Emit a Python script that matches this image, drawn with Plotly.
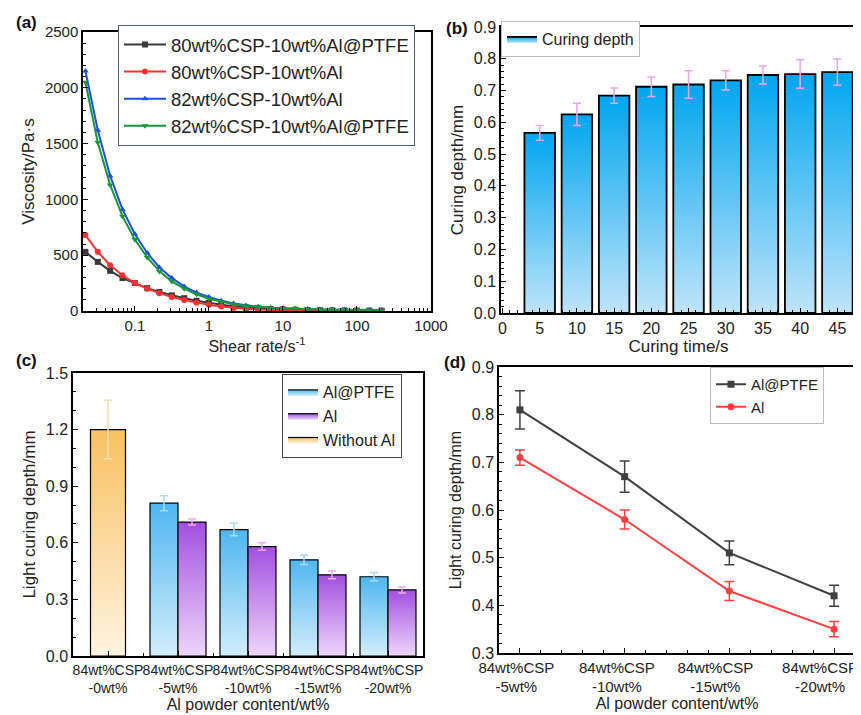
"""Four-panel figure: viscosity, curing depth vs time, light curing depth vs Al content."""

import plotly.graph_objects as go

# (a) viscosity vs shear rate
shear_rate = [0.0215, 0.0316, 0.0464, 0.0681, 0.1, 0.147, 0.215, 0.316, 0.464, 0.681,
              1.0, 1.47, 2.15, 3.16, 4.64, 6.81, 10, 14.7, 21.5, 31.6, 46.4, 68.1, 100, 147, 215]
visc_80_ptfe = [530, 440, 360, 295, 250, 205, 170, 140, 115, 92, 72, 55, 42, 32, 24, 18, 14, 11,
                9, 7, 6, 5, 4, 4, 3]
visc_80_al = [680, 530, 410, 320, 250, 200, 160, 125, 98, 75, 55, 40, 28, 20, 14, 10, 8, 6,
              5, 4, 3, 3, 2, 2, 2]
visc_82_al = [2150, 1620, 1210, 910, 690, 520, 390, 295, 220, 165, 125, 92, 68, 50, 38, 30, 24,
              20, 17, 14, 12, 11, 10, 9, 8]
visc_82_ptfe = [2050, 1510, 1130, 850, 640, 480, 355, 265, 200, 150, 110, 82, 60, 45, 35, 28,
                22, 18, 15, 13, 11, 10, 9, 8, 7]

# (b) curing depth vs curing time
cure_time = [5, 10, 15, 20, 25, 30, 35, 40, 45]
cure_depth = [0.567, 0.625, 0.684, 0.712, 0.719, 0.732, 0.749, 0.752, 0.758]
cure_err = [0.023, 0.035, 0.024, 0.031, 0.043, 0.030, 0.028, 0.045, 0.041]

# (c) / (d) light curing depth vs Al content
groups_c = ["84wt%CSP<br>-0wt%", "84wt%CSP<br>-5wt%", "84wt%CSP<br>-10wt%",
            "84wt%CSP<br>-15wt%", "84wt%CSP<br>-20wt%"]
NB = "\u00a0"
# (d) labels sit a little off their ticks in the original
groups_d = [NB * 5 + "84wt%CSP<br>" + NB * 5 + "-5wt%",
            NB * 3 + "84wt%CSP<br>" + NB * 3 + "-10wt%",
            "84wt%CSP<br>-15wt%", "84wt%CSP<br>-20wt%"]
without_al = 1.2
without_al_err = 0.155
al_ptfe = [0.81, 0.67, 0.51, 0.42]
al_ptfe_err = [0.04, 0.033, 0.025, 0.022]
al_only = [0.71, 0.58, 0.43, 0.35]
al_only_err = [0.016, 0.02, 0.02, 0.016]

FONT = "Arial, Liberation Sans, sans-serif"

fig = go.Figure()

# ---- (a)
series_a = [
    ("80wt%CSP-10wt%Al@PTFE", visc_80_ptfe, "#3a3a3a", "square"),
    ("80wt%CSP-10wt%Al", visc_80_al, "#ff3030", "circle"),
    ("82wt%CSP-10wt%Al", visc_82_al, "#1f4fe0", "triangle-up"),
    ("82wt%CSP-10wt%Al@PTFE", visc_82_ptfe, "#16983a", "triangle-down"),
]
for name, vals, color, sym in series_a:
    fig.add_trace(go.Scatter(
        x=shear_rate, y=vals, name=name, mode="lines+markers",
        line=dict(color=color, width=2), marker=dict(symbol=sym, size=6, color=color),
        xaxis="x", yaxis="y", legend="legend"))


def grad_bar(x, h, w, light, dark, xa, ya, name, show, legend, lw=1.5):
    # bar drawn as filled polygon so it can carry a vertical gradient
    fig.add_trace(go.Scatter(
        x=[x - w / 2, x - w / 2, x + w / 2, x + w / 2, x - w / 2],
        y=[0, h, h, 0, 0], mode="lines", fill="toself",
        fillgradient=dict(type="vertical", colorscale=[[0, light], [1, dark]]),
        line=dict(color="black", width=lw), name=name, showlegend=show,
        legendgroup=name, xaxis=xa, yaxis=ya, legend=legend, hoverinfo="skip"))


# ---- (b)
for i, (t, d) in enumerate(zip(cure_time, cure_depth)):
    grad_bar(t, d, 4.1, "#bfe4fa", "#00a6ef", "x2", "y2", "Curing depth", i == 0, "legend2", 1.8)
fig.add_trace(go.Scatter(
    x=cure_time, y=cure_depth, mode="markers", marker=dict(opacity=0),
    error_y=dict(array=cure_err, color="#e8a6e8", thickness=1.5, width=4),
    showlegend=False, xaxis="x2", yaxis="y2"))

# ---- (c)
grad_bar(0, without_al, 0.5, "#fff3df", "#f8c060", "x3", "y3", "Without Al", False, "legend3", 1.2)
for i in range(len(al_ptfe)):
    grad_bar(i + 1 - 0.2, al_ptfe[i], 0.4, "#d3eefc", "#4fb6f0", "x3", "y3", "Al@PTFE",
             i == 0, "legend3", 1.2)
    grad_bar(i + 1 + 0.2, al_only[i], 0.4, "#efd6fa", "#a24fe0", "x3", "y3", "Al",
             i == 0, "legend3", 1.2)
# legend entry for Without Al placed last
fig.add_trace(go.Scatter(
    x=[0, 0], y=[0, 0], mode="lines", fill="toself",
    fillgradient=dict(type="vertical", colorscale=[[0, "#fff3df"], [1, "#f8c060"]]),
    line=dict(color="black", width=1.2), name="Without Al", legendgroup="Without Al",
    xaxis="x3", yaxis="y3", legend="legend3", hoverinfo="skip"))
fig.add_trace(go.Scatter(
    x=[0], y=[without_al], mode="markers", marker=dict(opacity=0),
    error_y=dict(array=[without_al_err], color="#f6e0b0", thickness=1.5, width=4),
    showlegend=False, xaxis="x3", yaxis="y3"))
fig.add_trace(go.Scatter(
    x=[i + 1 - 0.2 for i in range(len(al_ptfe))], y=al_ptfe, mode="markers",
    marker=dict(opacity=0),
    error_y=dict(array=al_ptfe_err, color="#a8dcf6", thickness=1.5, width=4),
    showlegend=False, xaxis="x3", yaxis="y3"))
fig.add_trace(go.Scatter(
    x=[i + 1 + 0.2 for i in range(len(al_only))], y=al_only, mode="markers",
    marker=dict(opacity=0),
    error_y=dict(array=al_only_err, color="#f0a8f0", thickness=1.5, width=4),
    showlegend=False, xaxis="x3", yaxis="y3"))

# ---- (d)
fig.add_trace(go.Scatter(
    x=list(range(len(groups_d))), y=al_ptfe, name="Al@PTFE", mode="lines+markers",
    line=dict(color="#404040", width=2), marker=dict(symbol="square", size=7, color="#404040"),
    error_y=dict(array=al_ptfe_err, color="#404040", thickness=1.5, width=5),
    xaxis="x4", yaxis="y4", legend="legend4"))
fig.add_trace(go.Scatter(
    x=list(range(len(groups_d))), y=al_only, name="Al", mode="lines+markers",
    line=dict(color="#ff4040", width=2), marker=dict(symbol="circle", size=7, color="#ff4040"),
    error_y=dict(array=al_only_err, color="#ff4040", thickness=1.5, width=5),
    xaxis="x4", yaxis="y4", legend="legend4"))


def ax(size=15, **kw):
    base = dict(showline=True, linecolor="black", linewidth=1.5, mirror=True,
                ticks="inside", ticklen=5, tickwidth=1.2, tickcolor="black",
                showgrid=False, zeroline=False, automargin=False, tickangle=0,
                tickfont=dict(family=FONT, size=size, color="#222"),
                minor=dict(ticks="inside", ticklen=3, tickcolor="black", showgrid=False))
    base.update(kw)
    return base


W, H = 861, 715


def xd(a, b):
    return [a / W, b / W]


def yd(top, bottom):
    return [1 - bottom / H, 1 - top / H]


fig.update_layout(
    width=W, height=H, margin=dict(l=0, r=0, t=0, b=0),
    paper_bgcolor="white", plot_bgcolor="white",
    font=dict(family=FONT, color="#222"),
    xaxis=ax(15, domain=xd(75, 423), type="log", range=[-1.7, 3],
             tickvals=[0.1, 1, 10, 100, 1000], ticktext=["0.1", "1", "10", "100", "1000"],
             minor=dict(ticks="inside", ticklen=3, tickcolor="black", dtick="D1",
                        showgrid=False),
             title=dict(text="Shear rate/s<sup>-1</sup>", font=dict(size=16), standoff=8),
             anchor="y"),
    yaxis=ax(15, domain=yd(24, 303), range=[0, 2500], dtick=500,
             title=dict(text="Viscosity/Pa·s", font=dict(size=17), standoff=6), anchor="x"),
    xaxis2=ax(16, domain=xd(493, 848), range=[-0.2, 47.5], dtick=5,
              title=dict(text="Curing time/s", font=dict(size=17), standoff=4), anchor="y2"),
    yaxis2=ax(16, domain=yd(19, 305), range=[0, 0.9], dtick=0.1,
              tickformat=".1f",
              title=dict(text="Curing depth/mm", font=dict(size=17), standoff=6), anchor="x2"),
    xaxis3=ax(14, domain=xd(65, 415), range=[-0.5, 4.5],
              tickvals=list(range(len(groups_c))), ticktext=groups_c,
              title=dict(text="Al powder content/wt%", font=dict(size=16), standoff=4),
              anchor="y3"),
    yaxis3=ax(16, domain=yd(365, 648), range=[0, 1.5], dtick=0.3,
              tickformat=".1f",
              title=dict(text="Light curing depth/mm", font=dict(size=17), standoff=6),
              anchor="x3"),
    xaxis4=ax(15, domain=xd(491, 847), range=[-0.2, 3.2],
              tickvals=list(range(len(groups_d))), ticktext=groups_d,
              ticklabelshift=-14, ticklabeloverflow="allow",
              title=dict(text="Al powder content/wt%", font=dict(size=16), standoff=2),
              anchor="y4"),
    yaxis4=ax(16, domain=yd(359, 645), range=[0.3, 0.9], dtick=0.1,
              tickformat=".1f",
              title=dict(text="Light curing depth/mm", font=dict(size=16), standoff=6),
              anchor="x4"),
    legend=dict(x=110 / W, y=1 - 17 / H, xanchor="left", yanchor="top",
                bordercolor="#4a5a8a", borderwidth=1, bgcolor="white", itemwidth=42,
                font=dict(size=18.5), tracegroupgap=0),
    legend2=dict(x=493 / W, y=1 - 13 / H, xanchor="left", yanchor="top",
                 bordercolor="#bbb", borderwidth=1, bgcolor="white",
                 font=dict(size=16)),
    legend3=dict(x=274 / W, y=1 - 366 / H, xanchor="left", yanchor="top",
                 bordercolor="#444", borderwidth=1, bgcolor="white",
                 font=dict(size=16), tracegroupgap=0),
    legend4=dict(x=702 / W, y=1 - 359 / H, xanchor="left", yanchor="top",
                 bordercolor="#bbb", borderwidth=1, bgcolor="white",
                 font=dict(size=15), tracegroupgap=0),
)

# panel letters
for txt, x, y in [("(a)", 6, 15), ("(b)", 436, 20), ("(c)", 6, 352), ("(d)", 434, 355)]:
    fig.add_annotation(text=f"<b>{txt}</b>", x=x / W, y=1 - y / H,
                       xref="paper", yref="paper", xanchor="left", yanchor="middle",
                       showarrow=False, font=dict(size=17, family=FONT, color="#111"))

fig.write_html("out.html")
